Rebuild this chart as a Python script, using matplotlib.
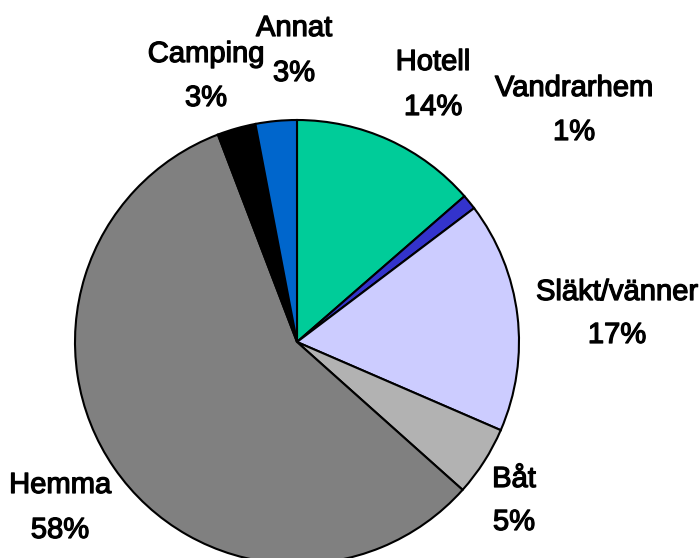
import matplotlib
matplotlib.use("Agg")
import matplotlib.pyplot as plt
import matplotlib.patheffects as pe

categories = ["Hotell", "Vandrarhem", "Släkt/vänner", "Båt", "Hemma", "Camping", "Annat"]
values = [13.6, 1.1, 16.8, 5.1, 57.6, 2.8, 3.0]
pct_labels = ["14%", "1%", "17%", "5%", "58%", "3%", "3%"]
colors = ["#00CC99", "#3333CC", "#CCCCFF", "#B2B2B2", "#808080", "#000000", "#0066CC"]

# label centre x and baselines (pixels from top) for name line and percent line
label_px = {
    "Hotell": (433, 70, 115),
    "Vandrarhem": (574, 96, 140),
    "Släkt/vänner": (617, 300, 343),
    "Båt": (514, 487, 530),
    "Hemma": (60, 493, 538),
    "Camping": (206, 62, 106),
    "Annat": (294, 36, 81),
}

W, H = 700, 558
cx, cy, R = 297, 342, 222

fig = plt.figure(figsize=(W / 100, H / 100), dpi=100)
ax = fig.add_axes([0, 0, 1, 1])
ax.pie(values, colors=colors, startangle=90, counterclock=False, radius=1,
       wedgeprops=dict(edgecolor="black", linewidth=1.5))
ax.set_xlim((0 - cx) / R, (W - cx) / R)
ax.set_ylim(-(H - cy) / R, cy / R)
ax.set_aspect("equal")
ax.axis("off")

def px2d(x, y):
    return (x - cx) / R, (cy - y) / R

for name, pct in zip(categories, pct_labels):
    x, b1, b2 = label_px[name]
    for txt, b in ((name, b1), (pct, b2)):
        dx, dy = px2d(x, b)
        ax.text(dx, dy, txt, ha="center", va="baseline", fontsize=21,
                family="Liberation Sans", color="black",
                path_effects=[pe.withStroke(linewidth=0.9, foreground="black")])

fig.savefig("out.png", dpi=100)
